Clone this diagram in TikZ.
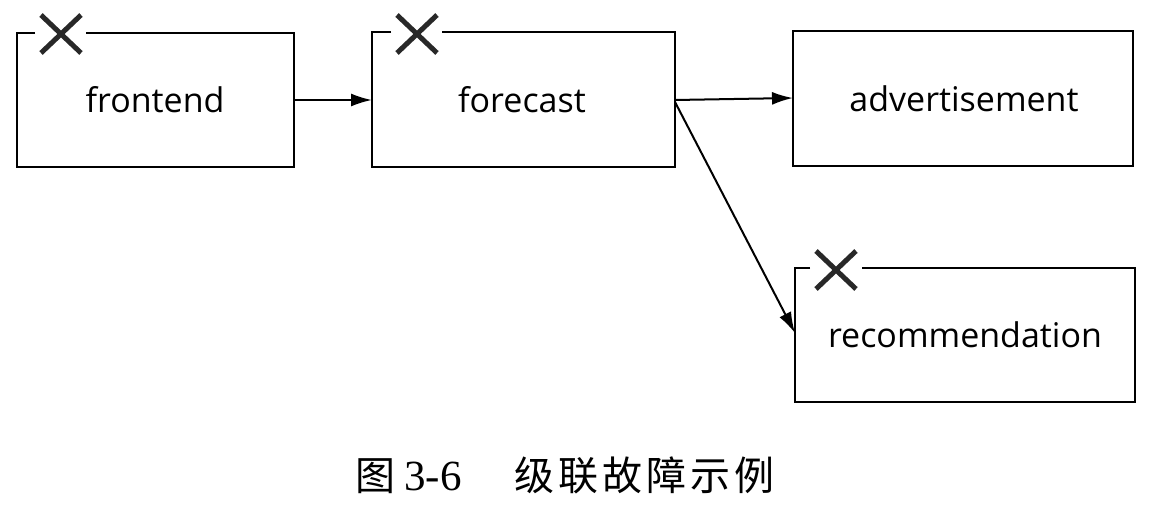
\documentclass[tikz,border=0pt]{standalone}
\usepackage{fontspec}
\setmainfont{Open Sans}
\newfontfamily\cjk{Noto Sans CJK SC}
\newfontfamily\capnum{Liberation Serif}
\usetikzlibrary{arrows.meta}
\begin{document}
\begin{tikzpicture}[x=1pt,y=-1pt,
  svc/.style={inner sep=0pt,outer sep=0pt,font=\fontsize{34}{40}\selectfont},
  outline/.style={line width=2pt,black},
  failmark/.style={line width=5pt,draw={rgb,255:red,40;green,40;blue,40}},
  conn/.style={line width=2pt,-{Latex[length=21pt,width=13pt]}},
  captxt/.style={anchor=base west,inner sep=0pt,font=\fontsize{40}{46}\selectfont}]
\useasboundingbox (0,0) rectangle (1160,519);
% box corners
\coordinate (feNW) at (17,33); \coordinate (feSE) at (294,167);
\coordinate (fcNW) at (372,32); \coordinate (fcSE) at (675,167);
\coordinate (adNW) at (793,31); \coordinate (adSE) at (1133,166);
\coordinate (rcNW) at (795,268); \coordinate (rcSE) at (1135,402);
% outlines (with gap at the fail marks)
\draw[outline] (35,33) -- (feNW) -- (17,167) -- (feSE) -- (294,33) -- (86,33);
\draw[outline] (391,32) -- (fcNW) -- (372,167) -- (fcSE) -- (675,32) -- (442,32);
\draw[outline] (adNW) rectangle (adSE);
\draw[outline] (810,268) -- (rcNW) -- (795,402) -- (rcSE) -- (1135,268) -- (862,268);
% fail marks
\draw[failmark] (41,15) -- (81,53) (41,53) -- (81,15);
\draw[failmark] (397,15) -- (437,53) (397,53) -- (437,15);
\draw[failmark] (816,251) -- (856,289) (816,289) -- (856,251);
% labels
\node[svc,anchor=base] (fe) at (155,113) {frontend};
\node[svc,anchor=base] (fc) at (522,113) {forecast};
\node[svc,anchor=base] (ad) at (964,111) {advertisement};
\node[svc,anchor=base] (rc) at (965,347) {recommendation};
% connection points on box borders
\coordinate (feR) at (294,100);
\coordinate (fcL) at (372,100);
\coordinate (fcR1) at (675,100);
\coordinate (fcR2) at (675,102);
\coordinate (adL) at (793,98);
\coordinate (rcL) at (795,333);
\draw[conn] (feR) -- (fcL);
\draw[conn] (fcR1) -- (adL);
\draw[conn] (fcR2) -- (rcL);
% caption
\node[captxt] (cap1) at (355,490) {\cjk 图};
\node[captxt,font=\fontsize{43}{48}\selectfont] (cap2) at (404,490) {\capnum 3-6};
\node[captxt] (cap3) at (514,490) {\cjk 级\hspace{4pt}联\hspace{4pt}故\hspace{4pt}障\hspace{4pt}示\hspace{4pt}例};
\end{tikzpicture}
\end{document}
